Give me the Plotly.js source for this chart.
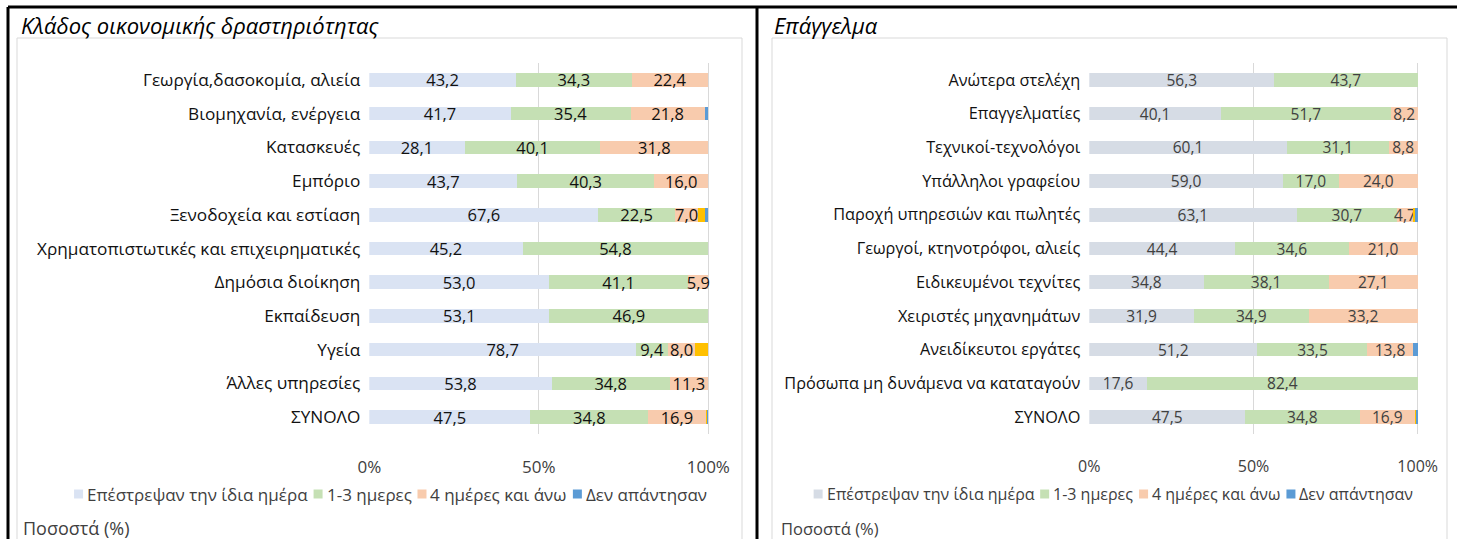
<!DOCTYPE html>
<html>
<head>
<meta charset="utf-8">
<script src="https://cdn.plot.ly/plotly-3.0.1.min.js"></script>
<style>
html,body{margin:0;padding:0;background:#fff;}
#chart{width:1457px;height:539px;}
</style>
</head>
<body>
<div id="chart"></div>
<script>
// ---------- DATA ----------
const titleLeft = 'Κλάδος οικονομικής δραστηριότητας';
const titleRight = 'Επάγγελμα';
const unitLabel = 'Ποσοστά (%)';
const legendNames = ['Επέστρεψαν την ίδια ημέρα', '1-3 ημερες', '4 ημέρες και άνω', 'Δεν απάντησαν'];
const tickVals = [0, 50, 100];
const tickLabels = ['0%', '50%', '100%'];

const catsLeft = ['Γεωργία,δασοκομία, αλιεία', 'Βιομηχανία, ενέργεια', 'Κατασκευές', 'Εμπόριο',
  'Ξενοδοχεία και εστίαση', 'Χρηματοπιστωτικές και επιχειρηματικές', 'Δημόσια διοίκηση',
  'Εκπαίδευση', 'Υγεία', 'Άλλες υπηρεσίες', 'ΣΥΝΟΛΟ'];
const sameDayL = [43.2, 41.7, 28.1, 43.7, 67.6, 45.2, 53.0, 53.1, 78.7, 53.8, 47.5];
const days13L  = [34.3, 35.4, 40.1, 40.3, 22.5, 54.8, 41.1, 46.9, 9.4, 34.8, 34.8];
const days4L   = [22.4, 21.8, 31.8, 16.0, 7.0, 0, 5.9, 0, 8.0, 11.3, 16.9];
const otherL   = [0, 0, 0, 0, 1.9, 0, 0, 0, 3.9, 0, 0.3];
const noAnsL   = [0, 1.1, 0, 0, 1.0, 0, 0, 0, 0, 0, 0.5];

const catsRight = ['Ανώτερα στελέχη', 'Επαγγελματίες', 'Τεχνικοί-τεχνολόγοι', 'Υπάλληλοι γραφείου',
  'Παροχή υπηρεσιών και πωλητές', 'Γεωργοί, κτηνοτρόφοι, αλιείς', 'Ειδικευμένοι τεχνίτες',
  'Χειριστές μηχανημάτων', 'Ανειδίκευτοι εργάτες', 'Πρόσωπα μη δυνάμενα να καταταγούν', 'ΣΥΝΟΛΟ'];
const sameDayR = [56.3, 40.1, 60.1, 59.0, 63.1, 44.4, 34.8, 31.9, 51.2, 17.6, 47.5];
const days13R  = [43.7, 51.7, 31.1, 17.0, 30.7, 34.6, 38.1, 34.9, 33.5, 82.4, 34.8];
const days4R   = [0, 8.2, 8.8, 24.0, 4.7, 21.0, 27.1, 33.2, 13.8, 0, 16.9];
const otherR   = [0, 0, 0, 0, 0.6, 0, 0, 0, 0, 0, 0.3];
const noAnsR   = [0, 0, 0, 0, 0.9, 0, 0, 0, 1.5, 0, 0.5];

// ---------- STYLE ----------
const W = 1457, H = 539;
const FAM = 'Open Sans';
const FONT = '"Open Sans", "Noto Sans", sans-serif';
const colorsLeft  = ['#DAE3F3', '#C5E0B4', '#F8CBAD', '#FFC000', '#5B9BD5'];
const colorsRight = ['#D6DCE5', '#C5E0B4', '#F8CBAD', '#FFC000', '#5B9BD5'];
const legendColorIdx = [0, 1, 2, 4];

const px = v => v / W;
const py = v => 1 - v / H;
const fmt = v => v > 0 ? v.toFixed(1).replace('.', ',') : '';

function makeTraces(cats, series, colors, xa, ya, labelColor, labelSize) {
  const names = [legendNames[0], legendNames[1], legendNames[2], '', legendNames[3]];
  return series.map((vals, i) => ({
    type: 'bar', orientation: 'h',
    y: cats, x: vals,
    xaxis: xa, yaxis: ya,
    name: names[i],
    marker: {color: colors[i], line: {width: 0}},
    text: i < 3 ? vals.map(fmt) : vals.map(() => ''),
    textposition: 'inside',
    insidetextanchor: 'middle',
    constraintext: 'none',
    textangle: 0,
    insidetextfont: {family: FONT, size: labelSize, color: labelColor},
    hoverinfo: 'x+y+name',
    showlegend: false
  }));
}

const traces = [
  ...makeTraces(catsLeft, [sameDayL, days13L, days4L, otherL, noAnsL], colorsLeft, 'x', 'y', '#111', 16.5),
  ...makeTraces(catsRight, [sameDayR, days13R, days4R, otherR, noAnsR], colorsRight, 'x2', 'y2', '#404040', 15.5)
];

// plot areas: 0% and 100% pixel positions, plus spare room on the right so labels are not clipped
const EXTRA = 14;
function xAxis(x0, x100, anchor, size) {
  const span = x100 - x0;
  return {
    domain: [x0 / W, (x100 + EXTRA) / W], anchor: anchor,
    range: [0, 100 + EXTRA / span * 100], tickvals: tickVals, ticktext: tickLabels,
    showgrid: true, gridcolor: '#D9D9D9', gridwidth: 1, zeroline: false, showline: false,
    ticks: '', ticklabelstandoff: 21, tickfont: {family: FONT, size: size, color: '#404040'},
    automargin: false, fixedrange: true
  };
}
const yDomain = [1 - 434 / H, 1 - 63 / H];
function yAxis(anchor, size) {
  return {
    anchor: anchor, domain: yDomain,
    type: 'category', autorange: 'reversed', showgrid: false, zeroline: false, showline: false,
    ticks: '', ticklabelstandoff: 8, tickfont: {family: FONT, size: size, color: '#111'},
    automargin: false, fixedrange: true
  };
}

const shapes = [];
const annotations = [];

// panel borders (black)
shapes.push({type: 'line', xref: 'paper', yref: 'paper', x0: px(8), x1: 1, y0: py(7), y1: py(7), line: {color: '#000', width: 3}});
shapes.push({type: 'line', xref: 'paper', yref: 'paper', x0: px(8), x1: px(8), y0: py(7), y1: 0, line: {color: '#000', width: 3}});
shapes.push({type: 'line', xref: 'paper', yref: 'paper', x0: px(757), x1: px(757), y0: py(7), y1: 0, line: {color: '#000', width: 3}});
// chart areas (light grey)
[[17, 742], [772, 1447]].forEach(([a, b]) => {
  shapes.push({type: 'path', xref: 'paper', yref: 'paper',
    path: `M${px(a)},0 L${px(a)},${py(38)} L${px(b)},${py(38)} L${px(b)},0`,
    line: {color: '#D9D9D9', width: 1}});
});

// titles
annotations.push({xref: 'paper', yref: 'paper', x: px(19), y: py(25), xanchor: 'left', yanchor: 'middle', showarrow: false,
  text: '<i>' + titleLeft + '</i>', font: {family: FONT, size: 22, color: '#000'}});
annotations.push({xref: 'paper', yref: 'paper', x: px(772), y: py(25), xanchor: 'left', yanchor: 'middle', showarrow: false,
  text: '<i>' + titleRight + '</i>', font: {family: FONT, size: 22, color: '#000'}});
// unit labels
annotations.push({xref: 'paper', yref: 'paper', x: px(21), y: py(528), xanchor: 'left', yanchor: 'middle', showarrow: false,
  text: unitLabel, font: {family: FONT, size: 18, color: '#404040'}});
annotations.push({xref: 'paper', yref: 'paper', x: px(779), y: py(528), xanchor: 'left', yanchor: 'middle', showarrow: false,
  text: unitLabel, font: {family: FONT, size: 16.5, color: '#404040'}});

// custom legends (data-driven from legendNames), centred in each chart area
const ctx = document.createElement('canvas').getContext('2d');
function addLegend(centerX, yc, colors, size) {
  ctx.font = size + 'px "' + FAM + '"';
  const SQ = 9, GAP1 = 3, GAP2 = 7;
  const widths = legendNames.map(nm => ctx.measureText(nm).width);
  const total = widths.reduce((a, w) => a + SQ + GAP1 + w, 0) + GAP2 * (legendNames.length - 1);
  let x = centerX - total / 2;
  legendNames.forEach((nm, i) => {
    const c = colors[legendColorIdx[i]];
    shapes.push({type: 'rect', xref: 'paper', yref: 'paper', x0: px(x), x1: px(x + SQ), y0: py(yc + 4.5), y1: py(yc - 4.5),
      fillcolor: c, line: {width: 0}});
    x += SQ + GAP1;
    annotations.push({xref: 'paper', yref: 'paper', x: px(x), y: py(yc), xanchor: 'left', yanchor: 'middle', showarrow: false,
      borderpad: 0, text: nm, font: {family: FONT, size: size, color: '#404040'}});
    x += widths[i] + GAP2;
  });
}
addLegend(390, 494, colorsLeft, 17);
addLegend(1113, 494, colorsRight, 16);

const layout = {
  width: W, height: H,
  margin: {l: 0, r: 0, t: 0, b: 0, pad: 0},
  paper_bgcolor: '#fff', plot_bgcolor: 'rgba(0,0,0,0)',
  barmode: 'stack', bargap: 0.6,
  showlegend: false,
  font: {family: FONT, color: '#111'},
  xaxis: xAxis(369.3, 708.3, 'y', 17),
  yaxis: yAxis('x', 17.2),
  xaxis2: xAxis(1089.3, 1417.7, 'y2', 16),
  yaxis2: yAxis('x2', 16.3),
  shapes: shapes,
  annotations: annotations
};

Plotly.newPlot('chart', traces, layout, {displayModeBar: false, staticPlot: true});
</script>
</body>
</html>
